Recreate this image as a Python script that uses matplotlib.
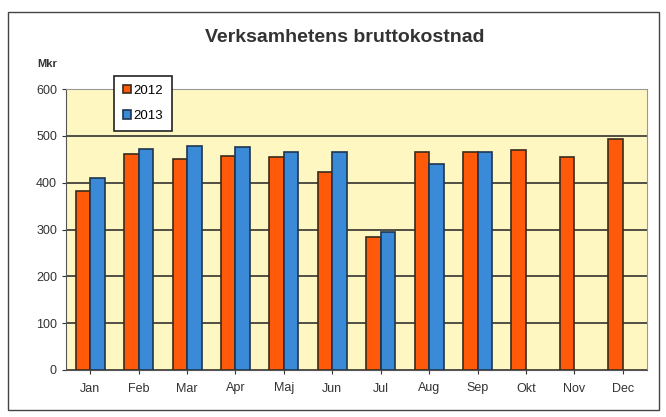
import numpy as np
import matplotlib
matplotlib.use('Agg')
import matplotlib.pyplot as plt
from matplotlib.patches import Rectangle

plt.rcParams['font.family'] = ['Liberation Sans', 'DejaVu Sans']

months = ['Jan', 'Feb', 'Mar', 'Apr', 'Maj', 'Jun', 'Jul', 'Aug', 'Sep', 'Okt', 'Nov', 'Dec']
vals_2012 = [382, 462, 450, 457, 455, 422, 284, 466, 465, 469, 455, 493]
vals_2013 = [411, 471, 479, 477, 465, 466, 295, 440, 465]

fig = plt.figure(figsize=(6.66, 4.17), dpi=100)
fig.patch.set_facecolor('white')
# outer frame of the chart
fig.add_artist(Rectangle((0.012, 0.017), 0.978, 0.955, transform=fig.transFigure,
                         fill=False, edgecolor='#444444', lw=1.0))

ax = fig.add_axes([66/666, 1 - 370/417, (647-66)/666, (370-89)/417])
ax.set_facecolor('#fff7c2')

x = np.arange(len(months))
w = 0.30
ax.bar(x[:len(vals_2012)] - w/2, vals_2012, w, color='#ff5a0a', edgecolor='#3a2a1a', lw=1.2, label='2012', zorder=3)
ax.bar(x[:len(vals_2013)] + w/2, vals_2013, w, color='#3a8ad8', edgecolor='#1f3550', lw=1.2, label='2013', zorder=3)

ax.set_xlim(-0.5, len(months) - 0.5)
ax.set_ylim(0, 600)
ax.set_yticks(range(0, 601, 100))
ax.set_xticks(x)
ax.set_xticklabels(months)
ax.yaxis.grid(True, color='#222222', lw=1.1, zorder=1)
ax.tick_params(axis='both', labelsize=9, colors='#333333', length=3)
ax.tick_params(axis='x', pad=6)
for s in ['top', 'right']:
    ax.spines[s].set_color('#999999')
ax.spines['left'].set_color('#555555')
ax.spines['bottom'].set_color('#555555')

fig.text(0.518, 1 - 38/417, 'Verksamhetens bruttokostnad', ha='center', va='center',
         fontsize=14, fontweight='bold', color='#333333')
fig.text(37/666, 1 - 64/417, 'Mkr', ha='left', va='center', fontsize=8,
         fontweight='bold', color='#333333')

leg = ax.legend(loc='upper left', bbox_to_anchor=(107/666, 1 - 69/417), bbox_transform=fig.transFigure,
                fontsize=9.5, frameon=True, fancybox=False, handlelength=0.6, handleheight=0.6,
                handletextpad=0.2, borderpad=0.7, labelspacing=1.0)
leg.get_frame().set_edgecolor('#222222')
leg.get_frame().set_linewidth(1.2)
leg.get_frame().set_facecolor('white')
leg.get_frame().set_alpha(1)

fig.savefig('out.png', dpi=100)
